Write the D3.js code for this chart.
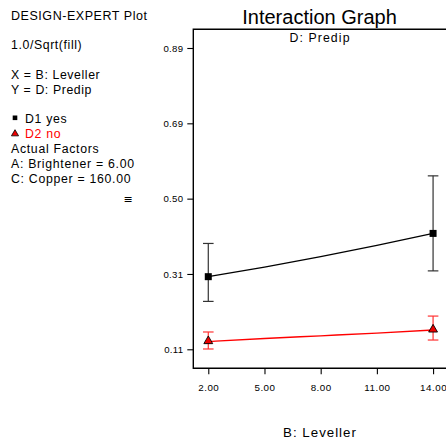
<!DOCTYPE html>
<html><head><meta charset="utf-8">
<script src="https://cdn.jsdelivr.net/npm/d3@7"></script>
<style>body{margin:0;background:#fff}svg{display:block;font-family:"Liberation Sans",Arial,sans-serif}</style>
</head><body>
<script>
const xTicks = [2, 5, 8, 11, 14];
const xTickLabels = ["2.00", "5.00", "8.00", "11.00", "14.00"];
const yTicks = [0.11, 0.305, 0.50, 0.695, 0.89];
const yTickLabels = ["0.11", "0.31", "0.50", "0.69", "0.89"];
const linePtsX = [2, 5, 8, 11, 14];
const d1Line = [0.298, 0.323, 0.350, 0.379, 0.410];
const d2Line = [0.130, 0.138, 0.145, 0.152, 0.160];
const pointX = [2, 14];
const d1Mean = [0.298, 0.410];
const d1Low = [0.234, 0.313];
const d1High = [0.384, 0.559];
const d2Mean = [0.130, 0.160];
const d2Low = [0.1108, 0.134];
const d2High = [0.1548, 0.196];
const infoLines = ["1.0/Sqrt(fill)", "", "X = B: Leveller", "Y = D: Predip"];
const factorLines = ["Actual Factors", "A: Brightener = 6.00", "C: Copper = 160.00"];

const W = 446, H = 444;
const svg = d3.select("body").append("svg").attr("width", W).attr("height", H);
const x = d3.scaleLinear().domain([1.2, 14.77]).range([193.3, 447.5]);
const y = d3.scaleLinear().domain([0.0608, 0.9384]).range([368.3, 29.3]);

// frame
svg.append("path").attr("d", `M${x.range()[1]},29.3H193.3V368.3H${x.range()[1]}`)
  .attr("fill", "none").attr("stroke", "#000").attr("stroke-width", 1.4);

// axes
const yAxis = d3.axisLeft(y).tickValues(yTicks).tickSize(6).tickPadding(4)
  .tickFormat((d, i) => yTickLabels[i]);
const gy = svg.append("g").attr("transform", "translate(193.3,0)").call(yAxis);
gy.select(".domain").remove();
gy.selectAll("text").attr("font-size", 9.6).attr("fill", "#000").attr("letter-spacing", 0.3).attr("font-family", "Liberation Sans, Arial, sans-serif");
gy.selectAll("line").attr("stroke-width", 1.1);

const xAxis = d3.axisBottom(x).tickValues(xTicks).tickSize(6).tickPadding(9.5)
  .tickFormat((d, i) => xTickLabels[i]);
const gx = svg.append("g").attr("transform", "translate(0,368.3)").call(xAxis);
gx.select(".domain").remove();
gx.selectAll("text").attr("font-size", 9.8).attr("fill", "#000").attr("letter-spacing", 0.5).attr("font-family", "Liberation Sans, Arial, sans-serif");
gx.selectAll("line").attr("stroke-width", 1.1);

// titles
svg.append("text").attr("x", 319.5).attr("y", 24).attr("text-anchor", "middle")
  .attr("font-size", 20).text("Interaction Graph");
svg.append("text").attr("x", 320).attr("y", 41.5).attr("text-anchor", "middle")
  .attr("font-size", 12.3).attr("letter-spacing", 1.1).text("D: Predip");
svg.append("text").attr("x", 320).attr("y", 437).attr("text-anchor", "middle")
  .attr("font-size", 13.3).attr("letter-spacing", 1).text("B: Leveller");
svg.append("text").attr("x", 128).attr("y", 203).attr("text-anchor", "middle")
  .attr("font-size", 11).attr("font-family", "DejaVu Sans").text("≡");

// left info panel
svg.append("text").attr("x", 11).attr("y", 20).attr("font-size", 12.5).attr("letter-spacing", 0.55).text("DESIGN-EXPERT Plot");
infoLines.forEach((t, i) => {
  if (t) svg.append("text").attr("x", 11).attr("y", 48.7 + i * 15.2).attr("font-size", 12.3).attr("letter-spacing", 0.6).text(t);
});
svg.append("rect").attr("x", 12.7).attr("y", 115.5).attr("width", 4.6).attr("height", 4.6).attr("fill", "#000");
svg.append("text").attr("x", 25).attr("y", 123.3).attr("font-size", 12.3).attr("letter-spacing", 0.7).text("D1 yes");
svg.append("path").attr("d", d3.symbol(d3.symbolTriangle, 22)()).attr("transform", "translate(15,133.8)")
  .attr("fill", "#e00").attr("stroke", "#000").attr("stroke-width", 0.8);
svg.append("text").attr("x", 25).attr("y", 137.5).attr("font-size", 12.3).attr("fill", "#f00").attr("letter-spacing", 0.7).text("D2 no");
factorLines.forEach((t, i) => {
  svg.append("text").attr("x", 11).attr("y", 152.7 + i * 15).attr("font-size", 12.3).attr("letter-spacing", 0.7).text(t);
});

// lines
const line = d3.line().x((d, i) => x(linePtsX[i])).y(d => y(d)).curve(d3.curveMonotoneX);
svg.append("path").attr("d", line(d1Line)).attr("fill", "none").attr("stroke", "#000").attr("stroke-width", 1.3);
svg.append("path").attr("d", line(d2Line)).attr("fill", "none").attr("stroke", "#f00").attr("stroke-width", 1.3);

// error bars
function errBars(low, high, color, sw) {
  const g = svg.append("g").attr("stroke", color).attr("stroke-width", sw).attr("fill", "none");
  pointX.forEach((px, i) => {
    const cx = x(px);
    g.append("line").attr("x1", cx).attr("x2", cx).attr("y1", y(low[i])).attr("y2", y(high[i]));
    [low[i], high[i]].forEach(v => g.append("line").attr("x1", cx - 5.3).attr("x2", cx + 5.3).attr("y1", y(v)).attr("y2", y(v)));
  });
}
errBars(d1Low, d1High, "#333", 1.2);
errBars(d2Low, d2High, "#f33", 1.2);

// markers
pointX.forEach((px, i) => {
  svg.append("rect").attr("x", x(px) - 3.5).attr("y", y(d1Mean[i]) - 3.5).attr("width", 7).attr("height", 7).attr("fill", "#000");
  svg.append("path").attr("d", d3.symbol(d3.symbolTriangle, 34)()).attr("transform", `translate(${x(px)},${y(d2Mean[i]) - 0.5})`)
    .attr("fill", "#e00").attr("stroke", "#000").attr("stroke-width", 0.9);
});
</script>
</body></html>
